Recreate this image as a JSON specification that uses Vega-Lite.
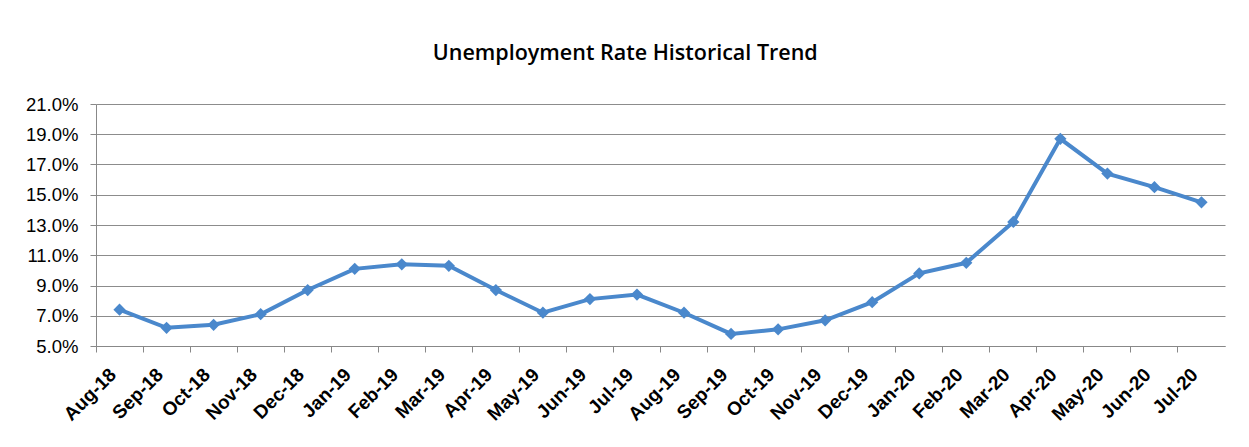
{
  "$schema": "https://vega.github.io/schema/vega-lite/v6.json",
  "autosize": {"type": "none"},
  "width": 1129,
  "height": 242,
  "padding": {"left": 96, "top": 104, "right": 24, "bottom": 101},
  "background": "white",
  "title": {
    "text": "Unemployment Rate Historical Trend",
    "font": "Open Sans",
    "fontSize": 21.5,
    "fontWeight": 600,
    "color": "#000000",
    "anchor": "middle",
    "frame": "bounds",
    "offset": 31
  },
  "data": {
    "values": [
      {"month": "Aug-18", "rate": 0.074},
      {"month": "Sep-18", "rate": 0.062},
      {"month": "Oct-18", "rate": 0.064},
      {"month": "Nov-18", "rate": 0.071},
      {"month": "Dec-18", "rate": 0.087},
      {"month": "Jan-19", "rate": 0.101},
      {"month": "Feb-19", "rate": 0.104},
      {"month": "Mar-19", "rate": 0.103},
      {"month": "Apr-19", "rate": 0.087},
      {"month": "May-19", "rate": 0.072},
      {"month": "Jun-19", "rate": 0.081},
      {"month": "Jul-19", "rate": 0.084},
      {"month": "Aug-19", "rate": 0.072},
      {"month": "Sep-19", "rate": 0.058},
      {"month": "Oct-19", "rate": 0.061},
      {"month": "Nov-19", "rate": 0.067},
      {"month": "Dec-19", "rate": 0.079},
      {"month": "Jan-20", "rate": 0.098},
      {"month": "Feb-20", "rate": 0.105},
      {"month": "Mar-20", "rate": 0.132},
      {"month": "Apr-20", "rate": 0.187},
      {"month": "May-20", "rate": 0.164},
      {"month": "Jun-20", "rate": 0.155},
      {"month": "Jul-20", "rate": 0.145}
    ]
  },
  "encoding": {
    "x": {
      "field": "month",
      "type": "ordinal",
      "sort": null,
      "scale": {"type": "band", "paddingInner": 0, "paddingOuter": 0},
      "axis": {
        "title": null,
        "labelAngle": -45,
        "labelAlign": "right",
        "labelBaseline": "top",
        "labelFont": "Liberation Sans",
        "labelFontSize": 19,
        "labelFontWeight": "bold",
        "labelColor": "#000000",
        "labelPadding": 13,
        "labelOffset": -13,
        "bandPosition": 0,
        "ticks": true,
        "tickSize": 6,
        "tickColor": "#888888",
        "domainColor": "#888888",
        "grid": false
      }
    },
    "y": {
      "field": "rate",
      "type": "quantitative",
      "scale": {"domain": [0.05, 0.21], "nice": false, "zero": false},
      "axis": {
        "title": null,
        "values": [0.05, 0.07, 0.09, 0.11, 0.13, 0.15, 0.17, 0.19, 0.21],
        "format": ".1%",
        "labelFont": "Liberation Sans",
        "labelFontSize": 18.5,
        "labelColor": "#000000",
        "labelPadding": 12,
        "tickSize": 6,
        "tickColor": "#888888",
        "domainColor": "#888888",
        "grid": true,
        "gridColor": "#8c8c8c",
        "gridWidth": 1
      }
    }
  },
  "layer": [
    {
      "mark": {"type": "line", "color": "#4a88cc", "strokeWidth": 4}
    },
    {
      "mark": {"type": "point", "shape": "diamond", "filled": true, "color": "#4a88cc", "size": 150, "opacity": 1}
    }
  ],
  "config": {
    "view": {"stroke": null}
  }
}
